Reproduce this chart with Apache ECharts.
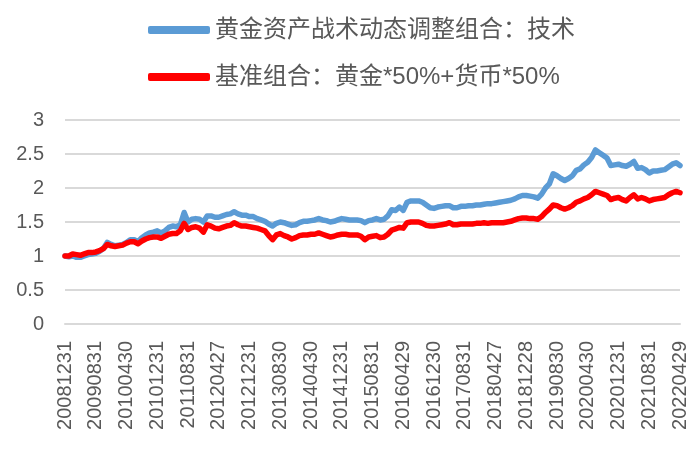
<!DOCTYPE html>
<html>
<head>
<meta charset="utf-8">
<script src="https://cdn.jsdelivr.net/npm/echarts@6/dist/echarts.min.js"></script>
<style>html,body{margin:0;padding:0;background:#fff;}#c{width:699px;height:459px;}</style>
</head>
<body>
<div id="c"></div>
<script>
// Series names
var seriesNames = ['黄金资产战术动态调整组合：技术', '基准组合：黄金*50%+货币*50%'];

// Tick labels shown on the x axis (every 8th month)
var tickLabels = ['20081231','20090831','20100430','20101231','20110831','20120427','20121231',
  '20130830','20140430','20141231','20150831','20160429','20161230','20170831','20180427',
  '20181228','20190830','20200430','20201231','20210831','20220429'];

// Monthly values, 2008-12 .. 2022-04 (161 months)
var techValues = [
  1.00,0.99,1.00,0.98,0.98,1.00,1.02,1.03,1.04,1.07,1.11,1.20,1.17,1.15,1.16,1.17,1.20,1.24,1.24,1.21,
  1.27,1.31,1.34,1.35,1.37,1.34,1.37,1.42,1.44,1.43,1.46,1.64,1.50,1.54,1.55,1.54,1.50,1.59,1.59,1.57,
  1.57,1.59,1.61,1.62,1.65,1.62,1.60,1.60,1.58,1.58,1.55,1.53,1.51,1.47,1.44,1.48,1.50,1.49,1.47,1.45,
  1.46,1.49,1.51,1.51,1.52,1.53,1.55,1.53,1.52,1.50,1.51,1.53,1.55,1.54,1.53,1.53,1.53,1.52,1.49,1.52,
  1.53,1.55,1.53,1.54,1.59,1.68,1.67,1.72,1.67,1.79,1.81,1.81,1.81,1.79,1.75,1.71,1.70,1.72,1.73,1.74,
  1.74,1.71,1.71,1.73,1.73,1.74,1.74,1.75,1.75,1.76,1.77,1.77,1.78,1.79,1.80,1.81,1.82,1.84,1.87,1.89,
  1.89,1.88,1.87,1.85,1.91,2.00,2.06,2.21,2.18,2.14,2.11,2.14,2.18,2.26,2.28,2.34,2.38,2.45,2.56,2.52,
  2.48,2.44,2.33,2.34,2.35,2.33,2.32,2.35,2.39,2.29,2.30,2.27,2.22,2.25,2.25,2.26,2.27,2.31,2.35,2.37,
  2.33];
var benchValues = [
  1.00,1.00,1.03,1.02,1.01,1.03,1.05,1.05,1.06,1.08,1.11,1.17,1.15,1.14,1.15,1.16,1.19,1.21,1.21,1.18,
  1.22,1.25,1.27,1.28,1.28,1.26,1.29,1.32,1.33,1.33,1.37,1.48,1.39,1.42,1.43,1.41,1.35,1.46,1.44,1.41,
  1.40,1.42,1.44,1.45,1.49,1.46,1.44,1.44,1.43,1.42,1.41,1.39,1.37,1.30,1.24,1.31,1.33,1.30,1.28,1.25,
  1.27,1.30,1.31,1.31,1.32,1.32,1.34,1.32,1.30,1.28,1.29,1.31,1.32,1.32,1.31,1.31,1.31,1.29,1.24,1.28,
  1.29,1.30,1.27,1.28,1.32,1.38,1.40,1.42,1.41,1.49,1.50,1.50,1.50,1.48,1.45,1.44,1.44,1.45,1.46,1.47,
  1.49,1.46,1.46,1.47,1.47,1.47,1.47,1.48,1.48,1.49,1.48,1.49,1.49,1.49,1.49,1.50,1.51,1.53,1.55,1.56,
  1.56,1.55,1.55,1.54,1.58,1.64,1.69,1.75,1.74,1.71,1.69,1.71,1.74,1.79,1.81,1.84,1.86,1.90,1.95,1.93,
  1.91,1.89,1.83,1.85,1.86,1.83,1.81,1.86,1.90,1.84,1.86,1.84,1.81,1.83,1.84,1.85,1.86,1.90,1.93,1.95,
  1.93];

// Build monthly category list (month-end dates); labelled months use the tick label strings
var categories = [];
(function(){
  var y = 2008, m = 12;
  for (var i = 0; i < techValues.length; i++) {
    if (i % 8 === 0) {
      categories.push(tickLabels[i / 8]);
    } else {
      var d = new Date(y, m, 0);
      while (d.getDay() === 0 || d.getDay() === 6) d.setDate(d.getDate() - 1);
      var s = '' + y + (m < 10 ? '0' + m : m) + (d.getDate() < 10 ? '0' + d.getDate() : d.getDate());
      categories.push(s);
    }
    m++; if (m > 12) { m = 1; y++; }
  }
})();

var gray = '#595959';
var fam = '"Liberation Sans", Arial, "Noto Sans CJK SC", sans-serif';
var chart = echarts.init(document.getElementById('c'), null, {renderer: 'canvas'});
chart.setOption({
  animation: false,
  backgroundColor: '#ffffff',
  legend: {
    orient: 'vertical',
    left: 143,
    top: 13,
    itemWidth: 62,
    itemHeight: 8,
    itemGap: 23,
    icon: 'roundRect',
    textStyle: {color: gray, fontSize: 24, fontFamily: fam},
    data: seriesNames
  },
  grid: {left: 65, right: 19, top: 120, bottom: 135, containLabel: false},
  xAxis: {
    type: 'category',
    data: categories,
    boundaryGap: false,
    axisLine: {show: true, lineStyle: {color: '#D9D9D9', width: 2}},
    axisTick: {show: false},
    axisLabel: {
      interval: 7,
      rotate: 90,
      margin: 17,
      color: gray,
      fontSize: 20,
      fontFamily: fam
    }
  },
  yAxis: {
    type: 'value',
    min: 0,
    max: 3,
    interval: 0.5,
    axisLine: {show: false},
    axisTick: {show: false},
    axisLabel: {color: gray, fontSize: 20, fontFamily: fam, margin: 21},
    splitLine: {lineStyle: {color: '#D9D9D9', width: 2}}
  },
  series: [
    {
      name: seriesNames[0],
      type: 'line',
      data: techValues,
      symbol: 'none',
      color: '#5B9BD5',
      lineStyle: {color: '#5B9BD5', width: 5.5, cap: 'round', join: 'round'}
    },
    {
      name: seriesNames[1],
      type: 'line',
      data: benchValues,
      symbol: 'none',
      color: '#FF0000',
      lineStyle: {color: '#FF0000', width: 5.5, cap: 'round', join: 'round'}
    }
  ]
});
</script>
</body>
</html>
